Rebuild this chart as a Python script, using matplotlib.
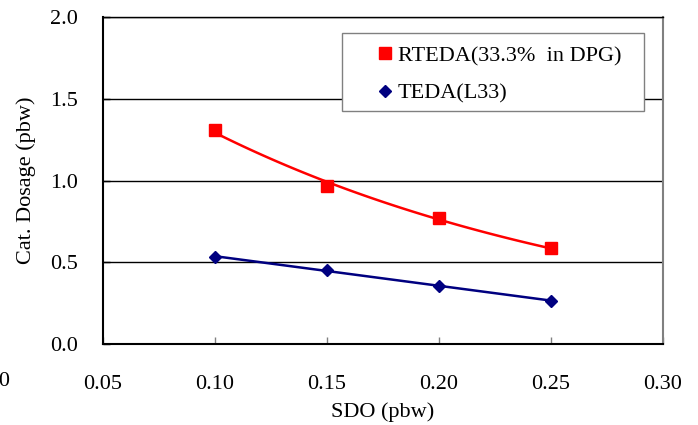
import numpy as np
import matplotlib
matplotlib.use("Agg")
import matplotlib.pyplot as plt
from matplotlib.patches import Rectangle

plt.rcParams['font.family'] = ['Liberation Serif', 'DejaVu Serif']

sdo = [0.10, 0.15, 0.20, 0.25]
rteda = [1.31, 0.966, 0.77, 0.585]
teda = [0.535, 0.45, 0.355, 0.265]
xticks = [0.05, 0.10, 0.15, 0.20, 0.25, 0.30]
yticks = [0.0, 0.5, 1.0, 1.5, 2.0]

FS = 16
XPAD = 22

fig = plt.figure(figsize=(6.98, 4.25), dpi=100)
ax = fig.add_axes([103/698, 1-344/425, 560/698, 327/425])

xs = np.linspace(sdo[0], sdo[-1], 100)
# exponential trendline for RTEDA
b, a = np.polyfit(sdo, np.log(rteda), 1)
ax.plot(xs, np.exp(a + b*xs), color='#ff0000', lw=1.8, zorder=3)
# linear trendline for TEDA
m, c = np.polyfit(sdo, teda, 1)
ax.plot(xs, m*xs + c, color='#000080', lw=1.8, zorder=3)

ax.plot(sdo, rteda, ls='none', marker='s', ms=8, color='#ff0000', zorder=4,
        label='RTEDA(33.3%  in DPG)')
ax.plot(sdo, teda, ls='none', marker='D', ms=6.5, color='#000080', zorder=4,
        label='TEDA(L33)')

ax.set_xlim(0.05, 0.30)
ax.set_ylim(0.0, 2.0)
ax.set_xticks(xticks)
ax.set_yticks(yticks)
ax.set_xticklabels([f'{v:.2f}' for v in xticks])
ax.set_yticklabels([f'{v:.1f}' for v in yticks])
ax.yaxis.grid(True, color='black', lw=1.0)
ax.set_axisbelow(True)
ax.tick_params(axis='x', direction='in', length=5, width=1, color='#808080',
               labelsize=FS, pad=XPAD)
ax.tick_params(axis='y', direction='in', length=5, width=1, color='black',
               labelsize=FS, pad=18)
for s in ['left', 'bottom']:
    ax.spines[s].set_color('black')
    ax.spines[s].set_linewidth(1.5)
ax.spines['right'].set_color('#808080')
ax.spines['right'].set_linewidth(1.5)
ax.spines['top'].set_color('black')
ax.spines['top'].set_linewidth(1.0)

# 0.00 label, partly cut off at the left edge as in the reference
ax.annotate('0.00', xy=(0.00, 0), xycoords=('data', 'axes fraction'),
            xytext=(0, -XPAD + 2), textcoords='offset points',
            ha='center', va='top', fontsize=FS, annotation_clip=False)

ax.set_xlabel('SDO (pbw)', fontsize=FS, labelpad=6)
ax.set_ylabel('Cat. Dosage (pbw)', fontsize=FS, labelpad=10)

# legend box
bx0, bx1, by0, by1 = 342, 644, 33, 111
ax.add_patch(Rectangle(((bx0-103)/560, (344-by1)/327), (bx1-bx0)/560, (by1-by0)/327,
                       transform=ax.transAxes, facecolor='white', edgecolor='#808080',
                       lw=1.0, zorder=5, clip_on=False))
leg = ax.legend(loc='upper left', bbox_to_anchor=((372-103)/560, (344-41)/327),
                fontsize=FS, frameon=False, borderpad=0.2, borderaxespad=0,
                handlelength=0.8, handletextpad=0.15, labelspacing=0.78)
leg.set_zorder(6)

fig.savefig('out.png', dpi=100)
